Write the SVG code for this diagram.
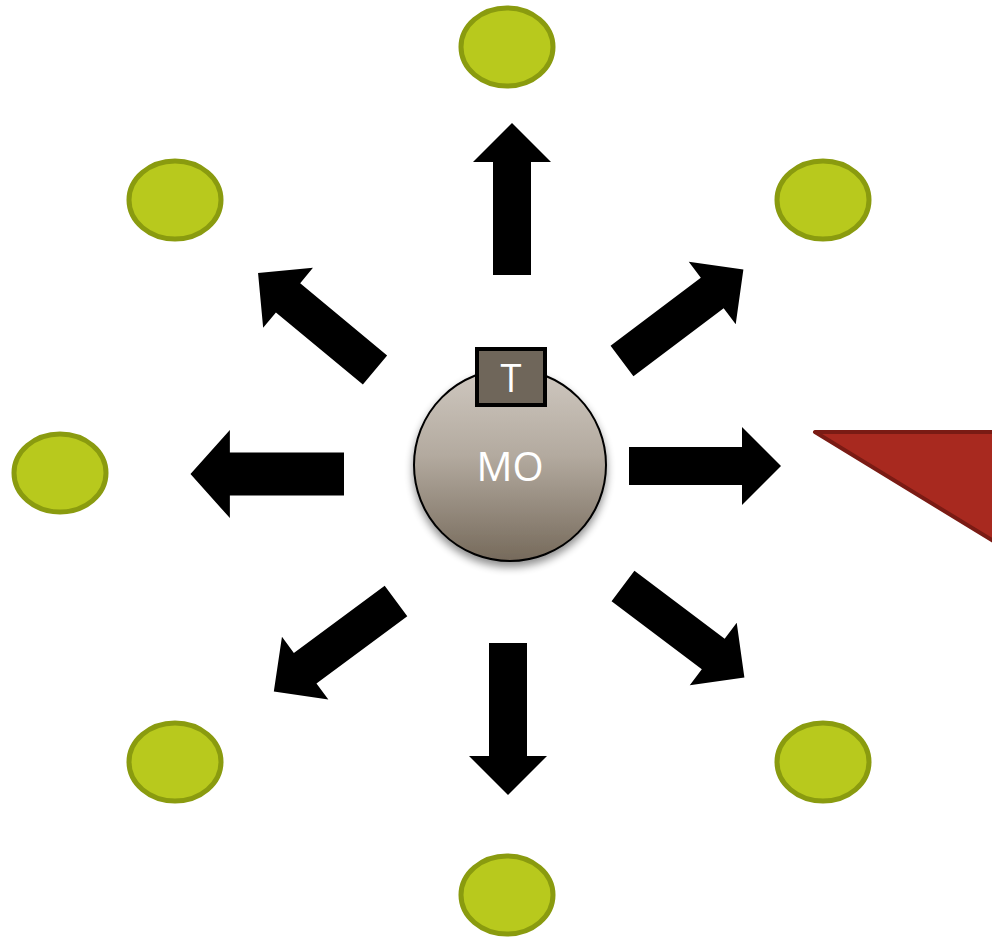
<svg xmlns="http://www.w3.org/2000/svg" width="992" height="937" viewBox="0 0 992 937">
  <style>
    .sat { fill: #b8c91d; stroke: #8a9b0f; stroke-width: 5; }
    .arrow { fill: #000; }
    .lbl { font-family: "Open Sans", "Liberation Sans", sans-serif; fill: #fff; text-anchor: middle; }
  </style>
  <defs>
    <linearGradient id="moGrad" x1="0" y1="0" x2="0" y2="1">
      <stop offset="0" stop-color="#cfc8c0"/>
      <stop offset="0.45" stop-color="#b3aa9f"/>
      <stop offset="1" stop-color="#766a5b"/>
    </linearGradient>
    <filter id="shadow" x="-30%" y="-30%" width="160%" height="170%">
      <feGaussianBlur in="SourceAlpha" stdDeviation="4"/>
      <feOffset dx="0" dy="5" result="b"/>
      <feComponentTransfer><feFuncA type="linear" slope="0.45"/></feComponentTransfer>
      <feMerge><feMergeNode/><feMergeNode in="SourceGraphic"/></feMerge>
    </filter>
    <!-- block arrow, tail at origin, pointing along +x -->
    <path id="blockArrow" d="M0,-19 L113,-19 L113,-39 L152,0 L113,39 L113,19 L0,19 Z"/>
  </defs>

  <!-- red wedge at right edge -->
  <g id="wedge">
    <path d="M815,432 L995,432 L995,542 Z" fill="#a8291f" stroke="#7a1b14" stroke-width="4" stroke-linejoin="round"/>
  </g>

  <!-- outer receivers -->
  <g id="sat-top"><ellipse class="sat" cx="507" cy="47" rx="46" ry="39"/></g>
  <g id="sat-top-left"><ellipse class="sat" cx="175" cy="200" rx="46" ry="39"/></g>
  <g id="sat-top-right"><ellipse class="sat" cx="823" cy="200" rx="46" ry="39"/></g>
  <g id="sat-left"><ellipse class="sat" cx="60" cy="473" rx="46" ry="39"/></g>
  <g id="sat-bottom-left"><ellipse class="sat" cx="175" cy="762" rx="46" ry="39"/></g>
  <g id="sat-bottom-right"><ellipse class="sat" cx="823" cy="762" rx="46" ry="39"/></g>
  <g id="sat-bottom"><ellipse class="sat" cx="507" cy="895" rx="46" ry="39"/></g>

  <!-- radiating arrows -->
  <g id="connectors" class="arrow">
    <use href="#blockArrow" transform="translate(512,275) rotate(-90)"/>
    <use href="#blockArrow" transform="translate(622,361) rotate(-37)"/>
    <use href="#blockArrow" transform="translate(629,466)"/>
    <use href="#blockArrow" transform="translate(623,586) rotate(37)"/>
    <use href="#blockArrow" transform="translate(508,643) rotate(90)"/>
    <use href="#blockArrow" transform="translate(396,601) rotate(143.5)"/>
    <use href="#blockArrow" transform="translate(344,474) rotate(180) scale(1.01,1.13)"/>
    <use href="#blockArrow" transform="translate(375,370) rotate(219.7)"/>
  </g>

  <!-- central MO node -->
  <g id="mo">
    <circle cx="510" cy="465" r="96" fill="url(#moGrad)" stroke="#000" stroke-width="2" filter="url(#shadow)"/>
    <text class="lbl" x="510" y="481" font-size="40">MO</text>
  </g>

  <!-- T tag -->
  <g id="t">
    <rect x="477" y="349" width="68" height="56" fill="#6f665a" stroke="#000" stroke-width="4"/>
    <text class="lbl" x="511" y="392" font-size="38">T</text>
  </g>
</svg>
